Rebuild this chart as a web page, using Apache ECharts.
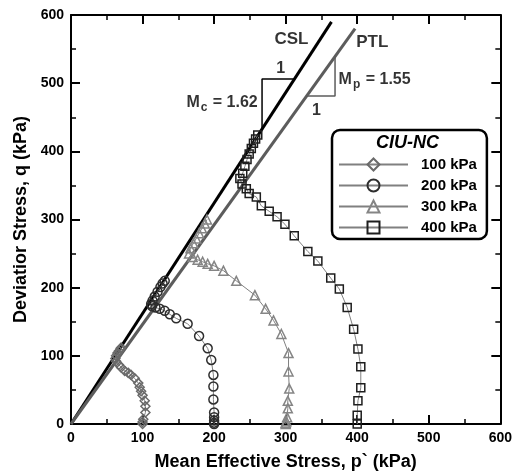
<!DOCTYPE html>
<html>
<head>
<meta charset="utf-8">
<script src="https://cdn.jsdelivr.net/npm/echarts@6/dist/echarts.min.js"></script>
<style>html,body{margin:0;padding:0;background:#fff}#c{width:515px;height:476px}</style>
</head>
<body>
<div id="c"></div>
<script>
// ---- data ----
var seriesNames = ['100 kPa', '200 kPa', '300 kPa', '400 kPa'];
var p100 = [100,100,101,104,104,103,100,98,96,94,89,84,80,75,70,67,63,62,63,65,67,69,70];
var q100 = [0,3,7,17,26,34,42,48,54,60,67,72,75,78,83,87,92,96,100,104,107,110,112];
var p200 = [200,200,200,200,200,199,199,199,196,191,179,163,147,138,131,124,118,113,112,114,117,121,125,128,131];
var q200 = [0,2,5,10,17,36,55,72,94,111,129,147,155,161,166,169,171,173,176,181,187,194,201,206,210];
var p300 = [300,300,301,302,303,303,305,304,304,294,283,272,257,231,213,200,191,184,177,170,165,167,171,175,179,183,187,190];
var q300 = [0,2,4,10,23,34,52,77,104,132,152,169,189,210,225,232,235,238,241,245,250,258,265,272,280,287,294,300];
var p400 = [400,400,401,405,405,401,395,386,375,363,345,331,312,299,288,277,266,259,249,245,239,236,240,243,246,249,252,255,258,261];
var q400 = [0,13,34,53,84,110,139,171,198,214,239,253,276,293,304,312,320,333,338,345,352,360,368,378,388,396,404,412,418,424];
var cslLine = [[0,0],[364,590]];
var ptlLine = [[0,0],[397,580]];
var cslTriangle = [[267,432.5],[267,506],[312.3,506]];
var ptlTriangle = [[329.5,481],[369,481],[369,539]];
var xTicks = [0,100,200,300,400,500,600];
var yTicks = [0,100,200,300,400,500,600];
// annotation texts and where they sit (data coordinates)
var annotations = [
  {text:'CSL', at:[308,565], align:'center', size:17},
  {text:'PTL', at:[421,560], align:'center', size:17},
  {text:'1', at:[293,521], align:'center', size:16},
  {text:'1', at:[343,460], align:'center', size:16},
  {text:'{m|M}{s|c}{m| = 1.62}', at:[261,471], align:'right', size:16},
  {text:'{m|M}{s|p}{m| = 1.55}', at:[374,505], align:'left', size:16}
];

function zip(a, b){ var r=[]; for (var i=0;i<a.length;i++) r.push([a[i], b[i]]); return r; }

var FONT = 'Liberation Sans';
var chart = echarts.init(document.getElementById('c'), null, {renderer:'canvas'});

function axisCommon(show){
  return {
    type:'value', min:0, max:600, interval:100,
    axisLine:{show:true, onZero:false, lineStyle:{color:'#000', width:2}},
    axisTick:{show:true, inside:true, length:9, lineStyle:{color:'#000', width:2}},
    minorTick:{show:true, splitNumber:2, length:5, lineStyle:{color:'#000', width:1.5}},
    splitLine:{show:false},
    axisLabel:{show:show, color:'#000', fontFamily:FONT, fontWeight:'bold', fontSize:14,
      formatter:function(v){ return xTicks.indexOf(v) >= 0 ? String(v) : ''; }}
  };
}

var xb = axisCommon(true);
xb.position = 'bottom';
xb.axisLabel.margin = 7;
xb.name = 'Mean Effective Stress, p` (kPa)';
xb.nameLocation = 'middle';
xb.nameGap = 29;
xb.nameTextStyle = {color:'#000', fontFamily:FONT, fontWeight:'bold', fontSize:18};
var xt = axisCommon(false); xt.position = 'top';
var yl = axisCommon(true);
yl.position = 'left';
yl.axisLabel.margin = 7;
yl.axisLabel.formatter = function(v){ return yTicks.indexOf(v) >= 0 ? String(v) : ''; };
yl.name = 'Deviatior Stress, q (kPa)';
yl.nameLocation = 'middle';
yl.nameGap = 31;
yl.nameTextStyle = {color:'#000', fontFamily:FONT, fontWeight:'bold', fontSize:18};
var yr = axisCommon(false); yr.position = 'right';

var styles = [
  {symbol:'diamond', color:'#6a6a6a', size:9},
  {symbol:'circle', color:'#2e2e2e', size:9},
  {symbol:'triangle', color:'#858585', size:9},
  {symbol:'rect', color:'#1e1e1e', size:8}
];
var datasets = [zip(p100,q100), zip(p200,q200), zip(p300,q300), zip(p400,q400)];

var series = [];
series.push({type:'line', data:cslLine, symbol:'none', silent:true, z:3,
  lineStyle:{color:'#000', width:3}});
series.push({type:'line', data:ptlLine, symbol:'none', silent:true, z:3,
  lineStyle:{color:'#5c5c5c', width:3}});
series.push({type:'line', data:cslTriangle, symbol:'none', silent:true, z:3,
  lineStyle:{color:'#000', width:1.5}});
series.push({type:'line', data:ptlTriangle, symbol:'none', silent:true, z:3,
  lineStyle:{color:'#5c5c5c', width:1.5}});
for (var i=0;i<4;i++){
  series.push({
    type:'line', name:seriesNames[i], data:datasets[i],
    symbol:styles[i].symbol, symbolSize:styles[i].size, showAllSymbol:true,
    lineStyle:{color:'#808080', width:1},
    itemStyle:{color:'rgba(255,255,255,0)', borderColor:styles[i].color, borderWidth:1.5},
    z:4, animation:false
  });
}
series.push({
  type:'scatter', symbolSize:0, silent:true, z:6,
  data:annotations.map(function(a){
    return {value:a.at, label:{show:true, position:'inside', align:a.align, formatter:a.text,
      color:'#000', fontSize:a.size,
      rich:{
        m:{fontFamily:FONT, fontWeight:'bold', fontSize:a.size, color:'#000'},
        s:{fontFamily:FONT, fontWeight:'bold', fontSize:12, color:'#000', padding:[9,1,0,1]}
      }}};
  }),
  label:{show:true, color:'#000', fontFamily:FONT, fontWeight:'bold', fontSize:16}
});

chart.setOption({
  animation:false,
  backgroundColor:'#fff',
  grid:{left:71, right:12, top:15, bottom:46, containLabel:false},
  xAxis:[xb, xt],
  yAxis:[yl, yr],
  title:{text:'CIU-NC', left:376, top:134, padding:0,
    textStyle:{fontFamily:FONT, fontWeight:'bold', fontStyle:'italic', fontSize:18, color:'#000'}},
  legend:{
    data:seriesNames, orient:'vertical', left:332, top:130,
    padding:[27,10,4,6], itemGap:6, itemWidth:69, itemHeight:15,
    borderColor:'#000', borderWidth:2.5, borderRadius:8, backgroundColor:'#fff',
    textStyle:{fontFamily:FONT, fontWeight:'bold', fontSize:15, color:'#000', padding:[0,0,0,8]},
    selectedMode:false
  },
  series:series
});
</script>
</body>
</html>
